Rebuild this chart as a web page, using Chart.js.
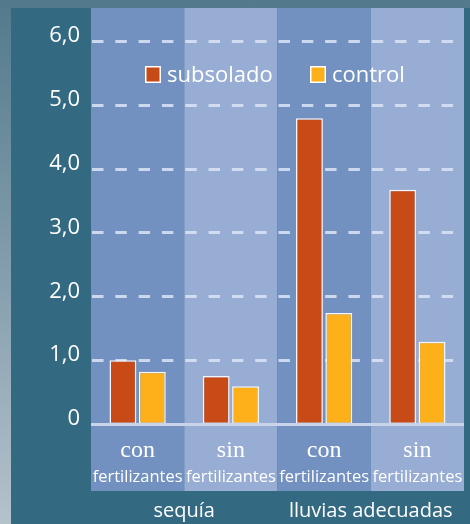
<!DOCTYPE html>
<html>
<head>
<meta charset="utf-8">
<script src="https://cdn.jsdelivr.net/npm/chart.js@4/dist/chart.umd.min.js"></script>
<style>
  html, body { margin: 0; padding: 0; }
  body {
    width: 470px; height: 524px; overflow: hidden; position: relative;
    background: linear-gradient(to bottom, #527a8c 0%, #87a0af 55%, #b4c2cc 100%);
  }
  #panel { position: absolute; left: 11px; top: 8px; width: 459px; height: 516px; background: #336a82; }
  canvas { display: block; }
</style>
</head>
<body>
<div id="panel"><canvas id="chart" width="459" height="516"></canvas></div>
<script>
const treatments = ["con", "sin", "con", "sin"];
const treatmentNote = "fertilizantes";
const conditions = ["sequía", "lluvias adecuadas"];
const seriesNames = ["subsolado", "control"];
const subsolado = [1.0, 0.75, 4.79, 3.67];
const control = [0.82, 0.59, 1.74, 1.29];
const yTickLabels = ["0", "1,0", "2,0", "3,0", "4,0", "5,0", "6,0"];

const colors = ["#c84b17", "#fdb01a"];
const SANS = "'Open Sans', sans-serif";

// column backgrounds, dashed grid, zero line, labels and legend
const backdrop = {
  id: "backdrop",
  beforeDatasetsDraw(chart) {
    const { ctx, chartArea: a, scales: { x, y } } = chart;
    const half = (x.getPixelForValue(1) - x.getPixelForValue(0)) / 2;
    ctx.save();
    treatments.forEach((_, i) => {
      const cx = x.getPixelForValue(i);
      ctx.fillStyle = i % 2 ? "#98add3" : "#7291c0";
      ctx.fillRect(cx - half, 0, half * 2, a.bottom + 67);
    });
    ctx.strokeStyle = "rgba(220,228,244,0.85)";
    ctx.lineWidth = 3;
    ctx.setLineDash([11.5, 11.8]);
    yTickLabels.forEach((_, v) => {
      if (v === 0) return;
      const py = Math.round(y.getPixelForValue(v)) + 0.5;
      treatments.forEach((_, i) => {
        const cx = x.getPixelForValue(i);
        ctx.beginPath();
        ctx.moveTo(cx - half + 1, py);
        ctx.lineTo(cx + half, py);
        ctx.stroke();
      });
    });
    ctx.restore();
  },
  afterDatasetsDraw(chart) {
    const { ctx, chartArea: a, scales: { x, y } } = chart;
    ctx.save();
    // zero line
    const y0 = Math.round(y.getPixelForValue(0)) + 0.5;
    ctx.strokeStyle = "#c9d3ea";
    ctx.lineWidth = 3;
    ctx.beginPath();
    ctx.moveTo(a.left, y0);
    ctx.lineTo(a.right, y0);
    ctx.stroke();

    // category labels
    ctx.fillStyle = "#ffffff";
    ctx.textAlign = "center";
    ctx.textBaseline = "alphabetic";
    treatments.forEach((t, i) => {
      const cx = x.getPixelForValue(i);
      ctx.font = "24px 'Liberation Serif', serif";
      ctx.fillText(t, cx, a.bottom + 33);
      ctx.font = "16.5px " + SANS;
      ctx.fillText(treatmentNote, cx, a.bottom + 58);
    });
    ctx.font = "20px " + SANS;
    conditions.forEach((c, g) => {
      const cx = (x.getPixelForValue(g * 2) + x.getPixelForValue(g * 2 + 1)) / 2;
      ctx.fillText(c, cx, a.bottom + 93);
    });

    // legend
    ctx.textAlign = "left";
    ctx.font = "22px " + SANS;
    const lx = [134, 299];
    seriesNames.forEach((n, i) => {
      ctx.fillStyle = colors[i];
      ctx.fillRect(lx[i], 58, 16, 17);
      ctx.strokeStyle = "#ffffff";
      ctx.lineWidth = 1.5;
      ctx.strokeRect(lx[i] + 0.75, 58.75, 14.5, 15.5);
      ctx.fillStyle = "#ffffff";
      ctx.fillText(n, lx[i] + 22, 74);
    });
    ctx.restore();
  }
};

new Chart(document.getElementById("chart"), {
  type: "bar",
  data: {
    labels: treatments,
    datasets: [
      { label: seriesNames[0], data: subsolado, backgroundColor: colors[0] },
      { label: seriesNames[1], data: control, backgroundColor: colors[1] }
    ].map(d => ({
      ...d,
      borderColor: "#f4f6fb",
      borderWidth: 1.5,
      borderSkipped: false,
      categoryPercentage: 0.63,
      barPercentage: 0.915
    }))
  },
  options: {
    responsive: false,
    animation: false,
    layout: { padding: { top: 1, bottom: 100, right: 6, left: 0 } },
    plugins: { legend: { display: false }, tooltip: { enabled: false } },
    scales: {
      x: { display: false },
      y: {
        min: 0,
        max: 6.5,
        afterFit: s => { s.width = 80; s.paddingTop = 0; s.paddingBottom = 0; },
        grid: { display: false, drawTicks: false },
        border: { display: false },
        ticks: {
          stepSize: 1,
          includeBounds: false,
          padding: 11,
          labelOffset: -5,
          color: "#ffffff",
          font: { family: SANS, size: 22 },
          callback: v => yTickLabels[v]
        }
      }
    }
  },
  plugins: [backdrop]
});
</script>
</body>
</html>
